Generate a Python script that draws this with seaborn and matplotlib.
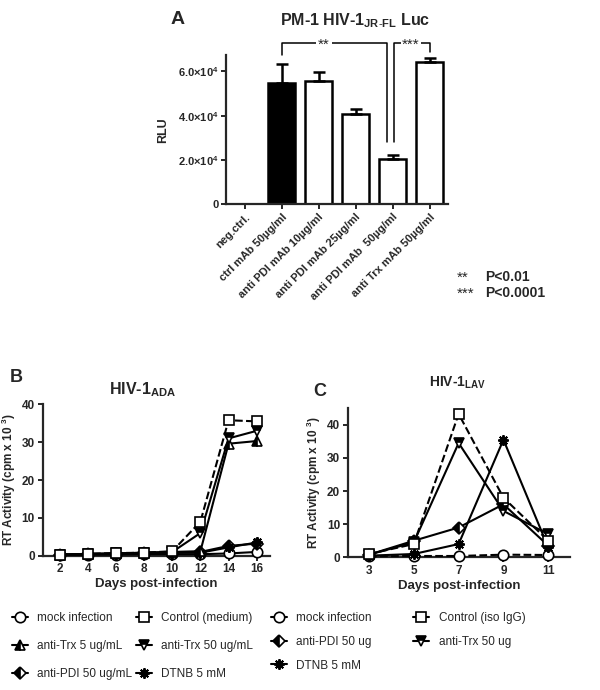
import numpy as np
import pandas as pd
import seaborn as sns
import matplotlib.pyplot as plt
from matplotlib.lines import Line2D

# ---- data ----
# panel A: luciferase readout
a_labels = ['neg.ctrl.', 'ctrl mAb 50µg/ml', 'anti PDI mAb 10µg/ml',
            'anti PDI mAb 25µg/ml', 'anti PDI mAb  50µg/ml', 'anti Trx mAb 50µg/ml']
a_rlu = [0, 54900, 55600, 40600, 20600, 64200]
a_err = [0, 8400, 4200, 2200, 1600, 1800]
a_yticks = [0, 20000, 40000, 60000]
a_yticklabels = ['0', r'2.0×10$^{\mathbf{4}}$', r'4.0×10$^{\mathbf{4}}$', r'6.0×10$^{\mathbf{4}}$']

# panel B: HIV-1 ADA, RT activity (cpm x 10^3)
b_days = [2, 4, 6, 8, 10, 12, 14, 16]
b_mock = [0.2, 0.3, 0.3, 0.4, 0.4, 0.4, 0.6, 1.0]
b_ctrl = [0.3, 0.5, 0.7, 0.8, 1.2, 9.0, 35.8, 35.5]
b_trx5 = [0.3, 0.5, 0.6, 0.8, 1.0, 1.2, 29.6, 30.3]
b_trx50 = [0.3, 0.5, 0.6, 0.8, 1.0, 6.0, 31.0, 33.0]
b_pdi = [0.3, 0.4, 0.5, 0.6, 0.8, 1.0, 2.6, 3.2]
b_dtnb = [0.3, 0.4, 0.5, 0.6, 0.8, 0.8, 2.2, 3.5]

# panel C: HIV-1 LAV
c_days = [3, 5, 7, 9, 11]
c_mock = [0.3, 0.4, 0.4, 0.8, 0.7]
c_ctrl = [1.0, 4.0, 43.3, 18.0, 5.0]
c_trx50 = [0.8, 4.5, 34.5, 14.0, 7.0]
c_pdi = [0.8, 5.0, 9.0, 16.0, 3.5]
c_dtnb = [0.5, 1.0, 4.0, 35.5, 3.0]

sns.set_style('ticks')
plt.rcParams['font.family'] = ['Liberation Sans', 'DejaVu Sans']
plt.rcParams['mathtext.fontset'] = 'custom'
plt.rcParams['mathtext.rm'] = 'Liberation Sans'
plt.rcParams['mathtext.bf'] = 'Liberation Sans:bold'
plt.rcParams['axes.linewidth'] = 1.6

fig = plt.figure(figsize=(6, 6.9), dpi=100)


def style_axes(ax, size=8.5):
    sns.despine(ax=ax)
    ax.tick_params(width=1.4, length=3.5, labelsize=size, pad=2)
    for t in ax.get_xticklabels() + ax.get_yticklabels():
        t.set_fontweight('bold')


# ---- panel A ----
ax_a = fig.add_axes([0.3767, 0.704, 0.37, 0.216])
df_a = pd.DataFrame({'cond': a_labels, 'rlu': a_rlu})
sns.barplot(data=df_a, x='cond', y='rlu', hue='cond', legend=False,
            palette=['white', 'black', 'white', 'white', 'white', 'white'],
            edgecolor='black', linewidth=1.8, width=0.73, ax=ax_a)
xs = np.arange(1, len(a_labels))
ax_a.errorbar(xs, a_rlu[1:], yerr=[np.zeros(len(xs)), a_err[1:]], fmt='none',
              ecolor='black', elinewidth=1.8, capsize=4, capthick=1.8)
ax_a.set_xlim(-0.5, 5.5)
ax_a.set_ylim(0, 67300)
ax_a.set_yticks(a_yticks)
ax_a.set_yticklabels(a_yticklabels)
ax_a.set_xlabel('')
ax_a.set_ylabel('RLU', fontsize=9, fontweight='bold', labelpad=6)
ax_a.set_xticks(range(len(a_labels)))
ax_a.set_xticklabels(a_labels, rotation=45, ha='right', rotation_mode='anchor')
style_axes(ax_a, 8)

# significance brackets
top = 72600
ax_a.plot([1.0, 1.0, 3.84, 3.84], [67500, top, top, 28200], color='black',
          lw=1.1, clip_on=False)
ax_a.plot([4.05, 4.05, 5.01, 5.01], [28200, top, top, 68800], color='black',
          lw=1.1, clip_on=False)
ax_a.text(2.15, top - 500, '**', ha='center', va='center', fontsize=11,
          bbox=dict(facecolor='white', edgecolor='none', pad=1.5))
ax_a.text(4.5, top - 500, '***', ha='center', va='center', fontsize=11,
          bbox=dict(facecolor='white', edgecolor='none', pad=0.5))

fig.text(178 / 600, 1 - 20 / 690, 'A', fontsize=14, fontweight='bold',
         ha='center', va='center')
fig.text(355 / 600, 1 - 21 / 690, r'PM-1 HIV-1$_{\mathbf{JR\text{-}FL}}$ Luc',
         fontsize=11.5, fontweight='bold', ha='center', va='center')
fig.text(457 / 600, 1 - 278 / 690, '**', fontsize=11, va='center')
fig.text(485 / 600, 1 - 277 / 690, 'P<0.01', fontsize=10, fontweight='bold', va='center')
fig.text(457 / 600, 1 - 294 / 690, '***', fontsize=11, va='center')
fig.text(485 / 600, 1 - 293 / 690, 'P<0.0001', fontsize=10, fontweight='bold', va='center')

# ---- marker styles ----
star = (8, 2, 0)
sty = {
    'mock': dict(marker='o', mfc='white', fillstyle='full'),
    'ctrl': dict(marker='s', mfc='white', fillstyle='full'),
    'trx5': dict(marker='^', mfc='black', mfcalt='white', fillstyle='left'),
    'trx50': dict(marker='v', mfc='black', mfcalt='white', fillstyle='top'),
    'pdi': dict(marker='D', mfc='black', mfcalt='white', fillstyle='left', ms=6),
    'dtnb': dict(marker=star, mfc='black', fillstyle='full', mew=1.4),
}


def line_kw(key):
    kw = dict(color='black', lw=1.5, ms=7.5, mec='black', mew=1.2)
    kw.update(sty[key])
    return kw


def draw(ax, x, y, key, ls='-'):
    sns.lineplot(x=x, y=y, ax=ax, linestyle=ls, clip_on=False, zorder=3,
                 **line_kw(key))


def handle(key, ls='-'):
    return Line2D([], [], linestyle=ls, **line_kw(key))


ylab = r'RT Activity (cpm x 10 $^{\mathbf{3}}$)'

# ---- panel B ----
ax_b = fig.add_axes([0.071, 0.1946, 0.379, 0.2194])
draw(ax_b, b_days, b_mock, 'mock')
draw(ax_b, b_days, b_pdi, 'pdi')
draw(ax_b, b_days, b_dtnb, 'dtnb')
draw(ax_b, b_days, b_trx5, 'trx5')
draw(ax_b, b_days, b_trx50, 'trx50')
draw(ax_b, b_days, b_ctrl, 'ctrl', ls='--')
ax_b.set_xlim(0.77, 16.95)
ax_b.set_ylim(0, 40)
ax_b.set_xticks(b_days)
ax_b.set_yticks([0, 10, 20, 30, 40])
ax_b.set_xlabel('Days post-infection', fontsize=9.5, fontweight='bold', labelpad=2)
ax_b.set_ylabel(ylab, fontsize=8.5, fontweight='bold', labelpad=3)
style_axes(ax_b)
fig.text(142 / 600, 1 - 390 / 690, r'HIV-1$_{\mathbf{ADA}}$', fontsize=11.5,
         fontweight='bold', ha='center', va='center')
fig.text(16 / 600, 1 - 377 / 690, 'B', fontsize=13, fontweight='bold',
         ha='center', va='center')

# ---- panel C ----
ax_c = fig.add_axes([0.5795, 0.1923, 0.3705, 0.216])
draw(ax_c, c_days, c_mock, 'mock', ls='--')
draw(ax_c, c_days, c_pdi, 'pdi')
draw(ax_c, c_days, c_dtnb, 'dtnb')
draw(ax_c, c_days, c_trx50, 'trx50')
draw(ax_c, c_days, c_ctrl, 'ctrl', ls='--')
ax_c.set_xlim(2.05, 11.97)
ax_c.set_ylim(0, 45)
ax_c.set_xticks(c_days)
ax_c.set_yticks([0, 10, 20, 30, 40])
ax_c.set_xlabel('Days post-infection', fontsize=9.5, fontweight='bold', labelpad=2)
ax_c.set_ylabel(ylab, fontsize=8.5, fontweight='bold', labelpad=3)
style_axes(ax_c)
fig.text(457 / 600, 1 - 383 / 690, r'HIV-1$_{\mathbf{LAV}}$', fontsize=10,
         fontweight='bold', ha='center', va='center')
fig.text(320 / 600, 1 - 391 / 690, 'C', fontsize=13, fontweight='bold',
         ha='center', va='center')

# ---- legends ----
leg_b = [('mock', 'mock infection'), ('trx5', 'anti-Trx 5 ug/mL'),
         ('pdi', 'anti-PDI 50 ug/mL'), ('ctrl', 'Control (medium)'),
         ('trx50', 'anti-Trx 50 ug/mL'), ('dtnb', 'DTNB 5 mM')]
fig.legend([handle(k) for k, _ in leg_b], [t for _, t in leg_b], ncol=2,
           loc='upper left', bbox_to_anchor=(12 / 600, 1 - 612 / 690),
           frameon=False, fontsize=8.5, handlelength=1.35, handletextpad=0.8,
           columnspacing=0.3, labelspacing=1.35, borderpad=0, borderaxespad=0)

leg_c = [('mock', 'mock infection'), ('pdi', 'anti-PDI 50 ug'),
         ('dtnb', 'DTNB 5 mM'), ('ctrl', 'Control (iso IgG)'),
         ('trx50', 'anti-Trx 50 ug')]
fig.legend([handle(k) for k, _ in leg_c], [t for _, t in leg_c], ncol=2,
           loc='upper left', bbox_to_anchor=(271 / 600, 1 - 612 / 690),
           frameon=False, fontsize=8.5, handlelength=1.35, handletextpad=0.8,
           columnspacing=3.5, labelspacing=1.0, borderpad=0, borderaxespad=0)

fig.savefig('out.png', dpi=100)
